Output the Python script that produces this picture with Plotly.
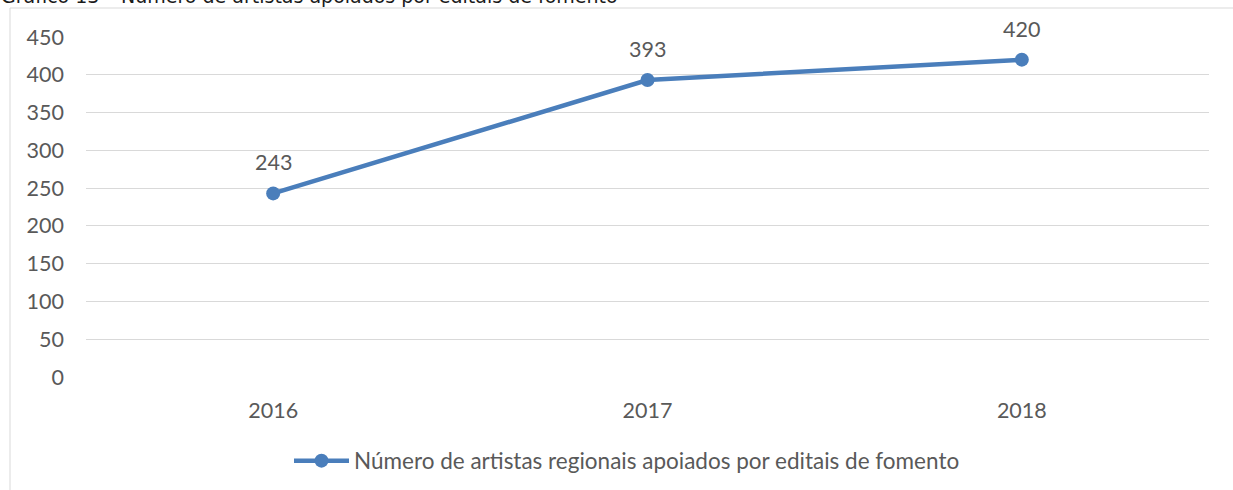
import plotly.graph_objects as go

years = ["2016", "2017", "2018"]
values = [243, 393, 420]
series_name = "Número de artistas regionais apoiados por editais de fomento"
title_text = "Gráfico 13 – Número de artistas apoiados por editais de fomento"
y_ticks = [0, 50, 100, 150, 200, 250, 300, 350, 400, 450]

W, H = 1233, 490
L, R, T, B = 86, 24, 37, 113
pw = W - L - R
ph = H - T - B

def px_x(p):
    return (p - L) / pw

def px_y(p):
    return (H - B - p) / ph

FONT = "Lato, Carlito, Liberation Sans, sans-serif"
GREY = "#595959"
BLUE = "#4a7ebb"

fig = go.Figure()
fig.add_trace(go.Scatter(
    x=years, y=values, name=series_name,
    mode="lines+markers",
    line=dict(color=BLUE, width=4.5),
    marker=dict(color=BLUE, size=14),
    cliponaxis=False,
))

label_annotations = [
    dict(x=i, y=v, xref="x", yref="y", text=str(v), showarrow=False,
         yshift=31, yanchor="middle", xanchor="center",
         font=dict(family=FONT, size=21.5, color=GREY))
    for i, v in enumerate(values)
]

fig.update_layout(
    width=W, height=H,
    margin=dict(l=L, r=R, t=T, b=B, autoexpand=False),
    paper_bgcolor="white", plot_bgcolor="white",
    font=dict(family=FONT, size=21.5, color=GREY),
    showlegend=True,
    legend=dict(orientation="h", x=px_x(627), xanchor="center", y=px_y(461), yanchor="middle",
                font=dict(family=FONT, size=22.5, color=GREY), itemwidth=55,
                bgcolor="rgba(0,0,0,0)"),
    xaxis=dict(type="category", range=[-0.5, 2.5], showgrid=False, zeroline=False,
               showline=False, ticks="", tickfont=dict(family=FONT, size=21.5, color=GREY),
               ticklabelstandoff=18),
    yaxis=dict(range=[0, 450], tickvals=y_ticks, showgrid=True, gridcolor="#d9d9d9",
               gridwidth=1, zeroline=False, showline=False, ticks="",
               tickfont=dict(family=FONT, size=21.5, color=GREY), ticklabelstandoff=21),
    shapes=[dict(type="rect", xref="paper", yref="paper",
                 x0=px_x(10), x1=px_x(1245), y0=px_y(500), y1=px_y(8),
                 line=dict(color="#d9d9d9", width=1), fillcolor="rgba(0,0,0,0)", layer="below")],
    annotations=[dict(text=title_text, xref="paper", yref="paper", x=px_x(-1), xanchor="left",
                      y=px_y(-4), yanchor="middle", showarrow=False,
                      font=dict(family="DejaVu Sans", size=19, color="#1a1a1a"))] + label_annotations,
)

fig.write_html("out.html", post_script="document.body.style.margin='0';",
               config={"displayModeBar": False})
